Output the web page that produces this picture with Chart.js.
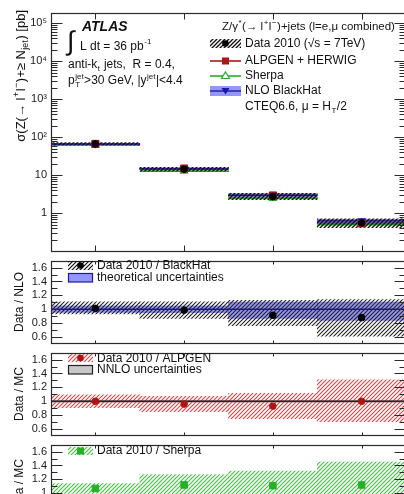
<!DOCTYPE html>
<html><head><meta charset="utf-8">
<script src="https://cdn.jsdelivr.net/npm/chart.js@4.4.1/dist/chart.umd.min.js"></script>
<style>
html,body{margin:0;padding:0;background:#fff;width:404px;height:494px;overflow:hidden;position:relative;}
canvas{position:absolute;left:0;}
</style></head><body>
<canvas id="c0" width="420" height="262" style="top:0px"></canvas>
<canvas id="c1" width="420" height="104" style="top:250px"></canvas>
<canvas id="c2" width="420" height="104" style="top:342px"></canvas>
<canvas id="c3" width="420" height="104" style="top:434px"></canvas>
<script>
// ---------------- data ----------------
const categories = ['\u2265 1 jet', '\u2265 2 jets', '\u2265 3 jets', '\u2265 4 jets'];
const binCenters = [1, 2, 3, 4];
const dataXsec   = [67, 14.5, 2.75, 0.56];
const dataXsecLo = [62, 12.8, 2.3, 0.42];
const dataXsecHi = [73, 16.2, 3.35, 0.72];
const alpgenXsec = [67, 15.1, 2.96, 0.56];
const sherpaXsec = [62.6, 12.9, 2.48, 0.50];
const blackhatXsec = [66.1, 14.7, 3.0, 0.636];
const blackhatLo = [63.2, 14.0, 2.6, 0.535];
const blackhatHi = [69.7, 15.4, 3.3, 0.70];

const ratioNLO   = [1.013, 0.987, 0.914, 0.88];
const ratioNLOLo = [0.935, 0.87, 0.764, 0.615];
const ratioNLOHi = [1.107, 1.107, 1.13, 1.14];
const nloTheoryLo = [0.955, 0.95, 0.87, 0.84];
const nloTheoryHi = [1.05, 1.05, 1.105, 1.105];

const ratioALPGEN   = [1.0, 0.96, 0.93, 1.0];
const ratioALPGENLo = [0.91, 0.85, 0.75, 0.707];
const ratioALPGENHi = [1.094, 1.07, 1.116, 1.31];
const nnloLo = [0.985, 0.985, 0.985, 0.985];
const nnloHi = [1.015, 1.015, 1.015, 1.015];

const ratioSherpa   = [1.07, 1.12, 1.11, 1.12];
const ratioSherpaLo = [1.0, 0.97, 0.9, 0.8];
const ratioSherpaHi = [1.14, 1.27, 1.32, 1.45];

const mainTicks = [1, 10, 100, 1000, 10000, 100000];
const mainTickLabels = ['1', '10', '10\u00b2', '10\u00b3', '10\u2074', '10\u2075'];
const ratioTicks = [0.6, 0.8, 1, 1.2, 1.4, 1.6];
const ratioTickLabels = ['0.6', '0.8', '1', '1.2', '1.4', '1.6'];

// ---------------- helpers ----------------
const FONT = '"Liberation Sans", Arial, Helvetica, sans-serif';
const RED = 'rgb(175,20,20)', GREEN = 'rgb(40,175,40)', BLUE = 'rgba(85,85,245,0.62)', DBLUE = 'rgb(25,25,170)';

function hatch(ctx, color, s, lw) {
  const c = document.createElement('canvas'); c.width = s; c.height = s;
  const g = c.getContext('2d'); g.strokeStyle = color; g.lineWidth = lw;
  g.beginPath();
  g.moveTo(0, s); g.lineTo(s, 0);
  g.moveTo(-1, 1); g.lineTo(1, -1);
  g.moveTo(s - 1, s + 1); g.lineTo(s + 1, s - 1);
  g.stroke();
  return ctx.createPattern(c, 'repeat');
}
function steps(vals) {
  const out = [];
  vals.forEach((v, i) => { out.push({x: binCenters[i] - 0.5, y: v}, {x: binCenters[i] + 0.5, y: v}, {x: binCenters[i] + 0.5, y: null}); });
  return out;
}
function band(lo, hi) { return binCenters.map((x, i) => ({x, y: [lo[i], hi[i]]})); }
function pts(vals) { return binCenters.map((x, i) => ({x, y: vals[i]})); }
function barDs(lo, hi, fill, order) {
  return {type: 'bar', data: band(lo, hi), backgroundColor: fill, borderWidth: 0, grouped: false,
          barPercentage: 1, categoryPercentage: 1, order};
}
function lineDs(vals, color, w, order) {
  return {type: 'line', data: steps(vals), borderColor: color, borderWidth: w, pointRadius: 0, spanGaps: false, order};
}
function markDs(vals, style, r, bg, border, bw, order, rot) {
  return {type: 'line', data: pts(vals), showLine: false, pointStyle: style, pointRadius: r,
          pointBackgroundColor: bg, pointBorderColor: border, pointBorderWidth: bw, pointRotation: rot || 0, order};
}
function rich(ctx, x, y, segs, size, o) {
  o = o || {};
  const f = sz => (o.italic ? 'italic ' : '') + (o.bold ? 'bold ' : '') + sz + 'px ' + FONT;
  const small = Math.round(size * 0.68);
  const parts = segs.map(s => typeof s === 'string' ? {t: s} : s);
  let w = 0;
  parts.forEach(p => {
    ctx.font = f(size); p.w = p.t ? ctx.measureText(p.t).width : 0;
    ctx.font = f(small);
    p.sw = Math.max(p.sup ? ctx.measureText(p.sup).width : 0, p.sub ? ctx.measureText(p.sub).width : 0);
    w += p.w + p.sw + (p.sw ? 1 : 0);
  });
  let cx = o.align === 'right' ? x - w : (o.align === 'center' ? x - w / 2 : x);
  ctx.textBaseline = 'middle'; ctx.textAlign = 'left'; ctx.fillStyle = o.color || '#111';
  parts.forEach(p => {
    if (p.t) { ctx.font = f(size); ctx.fillText(p.t, cx, y); cx += p.w; }
    ctx.font = f(small);
    if (p.sup) ctx.fillText(p.sup, cx + 0.5, y - size * 0.38);
    if (p.sub) ctx.fillText(p.sub, cx + 0.5, y + size * 0.32);
    cx += p.sw + (p.sw ? 1 : 0);
  });
  return w;
}
function vtext(ctx, x, yTop, yCenter, segs, size) {
  ctx.save(); ctx.translate(x, yTop != null ? yTop : yCenter); ctx.rotate(-Math.PI / 2);
  rich(ctx, 0, 0, segs, size, {align: yTop != null ? 'right' : 'center'});
  ctx.restore();
}
const logMinor = [];
for (let k = -1; k <= 5; k++) for (let m = 2; m <= 9; m++) logMinor.push(m * Math.pow(10, k));
const linMinor = [];
for (let v = 6; v <= 17; v++) linMinor.push(v / 10);

function decoPlugin(o) {
  return {id: 'deco', afterDraw(chart) {
    const {ctx, chartArea: a, scales: {x, y}} = chart;
    ctx.save();
    const L = Math.round(a.left) + 0.5, R = Math.round(a.right) - 0.5, T = Math.round(a.top) + 0.5, B = Math.round(a.bottom) + 0.5;
    ctx.strokeStyle = '#2a2a2a'; ctx.lineWidth = 1;
    ctx.beginPath();
    const yt = (v, len) => {
      if (v < y.min || v > y.max) return;
      const p = Math.round(y.getPixelForValue(v)) + 0.5;
      ctx.moveTo(L, p); ctx.lineTo(L + len, p); ctx.moveTo(R, p); ctx.lineTo(R - len, p);
    };
    o.major.forEach(v => yt(v, 11));
    o.minor.forEach(v => { if (!o.major.some(m => Math.abs(m - v) < 1e-9)) yt(v, 6); });
    binCenters.forEach(v => {
      const p = Math.round(x.getPixelForValue(v)) + 0.5;
      ctx.moveTo(p, T); ctx.lineTo(p, T + o.xt); ctx.moveTo(p, B); ctx.lineTo(p, B - o.xt);
    });
    ctx.stroke();
    ctx.lineWidth = 1.2;
    ctx.strokeRect(L, T, R - L, B - T);
    o.text(ctx);
    ctx.restore();
  }};
}
function makeChart(id, yOpts, buildDatasets, deco, pad) {
  const ctx = document.getElementById(id).getContext('2d');
  return new Chart(ctx, {
    type: 'bar',
    data: {datasets: buildDatasets(ctx)},
    options: {
      responsive: false, animation: false, devicePixelRatio: 1, events: [],
      layout: {padding: {top: pad[0], bottom: pad[1], left: 0, right: 14}},
      plugins: {legend: {display: false}, tooltip: {enabled: false}, title: {display: false}},
      scales: {
        x: {type: 'linear', min: 0.5, max: 4.5, offset: false, display: false,
            grid: {offset: false},
            afterBuildTicks: s => { s.ticks = binCenters.map(v => ({value: v})); }},
        y: Object.assign({
          position: 'left',
          grid: {display: false, drawTicks: false},
          border: {display: false},
          ticks: {padding: 4, autoSkip: false, color: '#1a1a1a', font: {family: FONT, size: 11}},
          afterFit: s => { s.width = 51; }
        }, yOpts)
      }
    },
    plugins: [deco]
  });
}

// ---------------- main panel ----------------
makeChart('c0', {
  type: 'logarithmic', min: 0.1, max: 1.85e5,
  afterBuildTicks: s => { s.ticks = mainTicks.map(v => ({value: v})); },
  ticks: {padding: 4, autoSkip: false, color: '#1a1a1a', font: {family: FONT, size: 11},
          callback: v => { const i = mainTicks.indexOf(v); return i >= 0 ? mainTickLabels[i] : ''; }}
}, ctx => {
  const hb = hatch(ctx, '#111', 4, 1.3);
  return [
    lineDs(sherpaXsec, GREEN, 1.6, 10),
    lineDs(alpgenXsec, RED, 1.6, 9),
    barDs(blackhatLo, blackhatHi, BLUE, 8),
    lineDs(blackhatXsec, DBLUE, 1.4, 7),
    barDs(dataXsecLo, dataXsecHi, hb, 6),
    markDs(sherpaXsec, 'triangle', 4, 'rgba(255,255,255,0)', GREEN, 1.2, 5),
    markDs(alpgenXsec, 'rect', 5, RED, RED, 1, 4),
    markDs(blackhatXsec, 'triangle', 4, DBLUE, DBLUE, 1, 3, 180),
    markDs(dataXsec, 'circle', 3.3, '#000', '#000', 1, 2)
  ];
}, decoPlugin({major: mainTicks, minor: logMinor, xt: 6, text: ctx => {
  vtext(ctx, 21, 10, null, ['\u03c3(Z(\u2192 l', {sup: '+'}, 'l', {sup: '\u2212'}, ')+\u2265 N', {sub: 'jet'}, ') [pb]'], 13);
  rich(ctx, 82, 27, ['ATLAS'], 14, {bold: true, italic: true});
  ctx.font = '27px ' + FONT; ctx.fillStyle = '#111'; ctx.textBaseline = 'middle'; ctx.fillText('\u222b', 67, 43);
  rich(ctx, 80, 46.7, ['L dt = 36 pb', {sup: '-1'}], 12);
  rich(ctx, 68, 65, ['anti-k', {sub: 't'}, ' jets,  R = 0.4,'], 12);
  rich(ctx, 68, 81, ['p', {sup: 'jet', sub: 'T'}, '>30 GeV, |y', {sup: 'jet'}, '|<4.4'], 12);
  // legend
  rich(ctx, 222, 26.7, ['Z/\u03b3', {sup: '*'}, '(\u2192 l', {sup: '+'}, 'l', {sup: '\u2212'}, ')+jets (l=e,\u03bc combined)'], 11.5);
  const hb = hatch(ctx, '#111', 4, 1.3);
  ctx.fillStyle = hb; ctx.fillRect(210, 39, 31, 9);
  ctx.fillStyle = '#000'; ctx.beginPath(); ctx.arc(225.5, 43.5, 3.3, 0, 2 * Math.PI); ctx.fill();
  rich(ctx, 245, 43.5, ['Data 2010 (\u221as = 7TeV)'], 12);
  ctx.strokeStyle = RED; ctx.lineWidth = 1.6; ctx.beginPath(); ctx.moveTo(210, 61); ctx.lineTo(241, 61); ctx.stroke();
  ctx.fillStyle = RED; ctx.fillRect(222, 57.5, 7, 7);
  rich(ctx, 245, 61, ['ALPGEN + HERWIG'], 12);
  ctx.strokeStyle = GREEN; ctx.beginPath(); ctx.moveTo(210, 76); ctx.lineTo(241, 76); ctx.stroke();
  ctx.fillStyle = '#fff'; ctx.lineWidth = 1.2; ctx.beginPath(); ctx.moveTo(225.5, 72); ctx.lineTo(229.5, 78.5); ctx.lineTo(221.5, 78.5); ctx.closePath(); ctx.fill(); ctx.stroke();
  rich(ctx, 245, 75.5, ['Sherpa'], 12);
  ctx.fillStyle = BLUE; ctx.fillRect(210, 86, 31, 10);
  ctx.strokeStyle = DBLUE; ctx.lineWidth = 1.4; ctx.beginPath(); ctx.moveTo(210, 91); ctx.lineTo(241, 91); ctx.stroke();
  ctx.fillStyle = DBLUE; ctx.beginPath(); ctx.moveTo(221.5, 88); ctx.lineTo(229.5, 88); ctx.lineTo(225.5, 94.5); ctx.closePath(); ctx.fill();
  rich(ctx, 245, 91, ['NLO BlackHat'], 12);
  rich(ctx, 245, 106.5, ['CTEQ6.6, \u03bc = H', {sub: 'T'}, '/2'], 12);
}}), [13, 6]);

// ---------------- ratio panels ----------------
const ratioY = {
  type: 'linear', min: 0.51, max: 1.70,
  afterBuildTicks: s => { s.ticks = ratioTicks.map(v => ({value: v})); },
  ticks: {padding: 4, autoSkip: false, color: '#1a1a1a', font: {family: FONT, size: 11},
          callback: v => { const i = ratioTicks.findIndex(t => Math.abs(t - v) < 1e-9); return i >= 0 ? ratioTickLabels[i] : ''; }}
};

makeChart('c1', ratioY, ctx => [
  barDs(nloTheoryLo, nloTheoryHi, BLUE, 10),
  lineDs(ratioNLO.map(() => 1), DBLUE, 1.5, 9),
  barDs(ratioNLOLo, ratioNLOHi, hatch(ctx, '#222', 4, 1.1), 8),
  markDs(ratioNLO, 'circle', 3.3, '#000', '#000', 1, 2)
], decoPlugin({major: ratioTicks, minor: linMinor, xt: 3, text: ctx => {
  vtext(ctx, 20, null, 52, ['Data / NLO'], 12);
  ctx.fillStyle = hatch(ctx, '#111', 4, 1.2); ctx.fillRect(68, 11, 25, 9);
  ctx.fillStyle = '#000'; ctx.beginPath(); ctx.arc(80.5, 15.5, 3.3, 0, 2 * Math.PI); ctx.fill();
  rich(ctx, 97, 15.5, ['Data 2010 / BlackHat'], 12);
  ctx.fillStyle = BLUE; ctx.fillRect(68.5, 23.5, 24, 8.5);
  ctx.strokeStyle = DBLUE; ctx.lineWidth = 1.2; ctx.strokeRect(68.5, 23.5, 24, 8.5);
  rich(ctx, 97, 27.7, ['theoretical uncertainties'], 12);
}}), [6, 6]);

makeChart('c2', ratioY, ctx => [
  barDs(nnloLo, nnloHi, '#b8b8b8', 10),
  barDs(ratioALPGENLo, ratioALPGENHi, hatch(ctx, 'rgb(210,75,75)', 4, 1.15), 9),
  lineDs(ratioALPGEN.map(() => 1), '#222', 1.4, 8),
  markDs(ratioALPGEN, 'circle', 3.3, RED, RED, 1, 2)
], decoPlugin({major: ratioTicks, minor: linMinor, xt: 3, text: ctx => {
  vtext(ctx, 20, null, 52, ['Data / MC'], 12);
  ctx.fillStyle = hatch(ctx, 'rgb(210,75,75)', 4, 1.15); ctx.fillRect(68, 12, 25, 8);
  ctx.fillStyle = RED; ctx.beginPath(); ctx.arc(80.5, 16, 3.3, 0, 2 * Math.PI); ctx.fill();
  rich(ctx, 97, 16.3, ['Data 2010 / ALPGEN'], 12);
  ctx.fillStyle = '#c8c8c8'; ctx.fillRect(68.5, 23.5, 24, 8.5);
  ctx.strokeStyle = '#222'; ctx.lineWidth = 1.2; ctx.strokeRect(68.5, 23.5, 24, 8.5);
  rich(ctx, 97, 27.5, ['NNLO uncertainties'], 12);
}}), [6, 6]);

makeChart('c3', ratioY, ctx => [
  barDs(ratioSherpaLo, ratioSherpaHi, hatch(ctx, 'rgb(70,190,70)', 4, 1.15), 9),
  markDs(ratioSherpa, 'rect', 4.6, GREEN, GREEN, 1, 2)
], decoPlugin({major: ratioTicks, minor: linMinor, xt: 3, text: ctx => {
  vtext(ctx, 20, null, 52, ['Data / MC'], 12);
  ctx.fillStyle = hatch(ctx, 'rgb(70,190,70)', 4, 1.15); ctx.fillRect(68, 13, 25, 8);
  ctx.fillStyle = GREEN; ctx.fillRect(77, 13.5, 7, 7);
  rich(ctx, 97, 16.7, ['Data 2010 / Sherpa'], 12);
}}), [6, 6]);
</script>
</body></html>
